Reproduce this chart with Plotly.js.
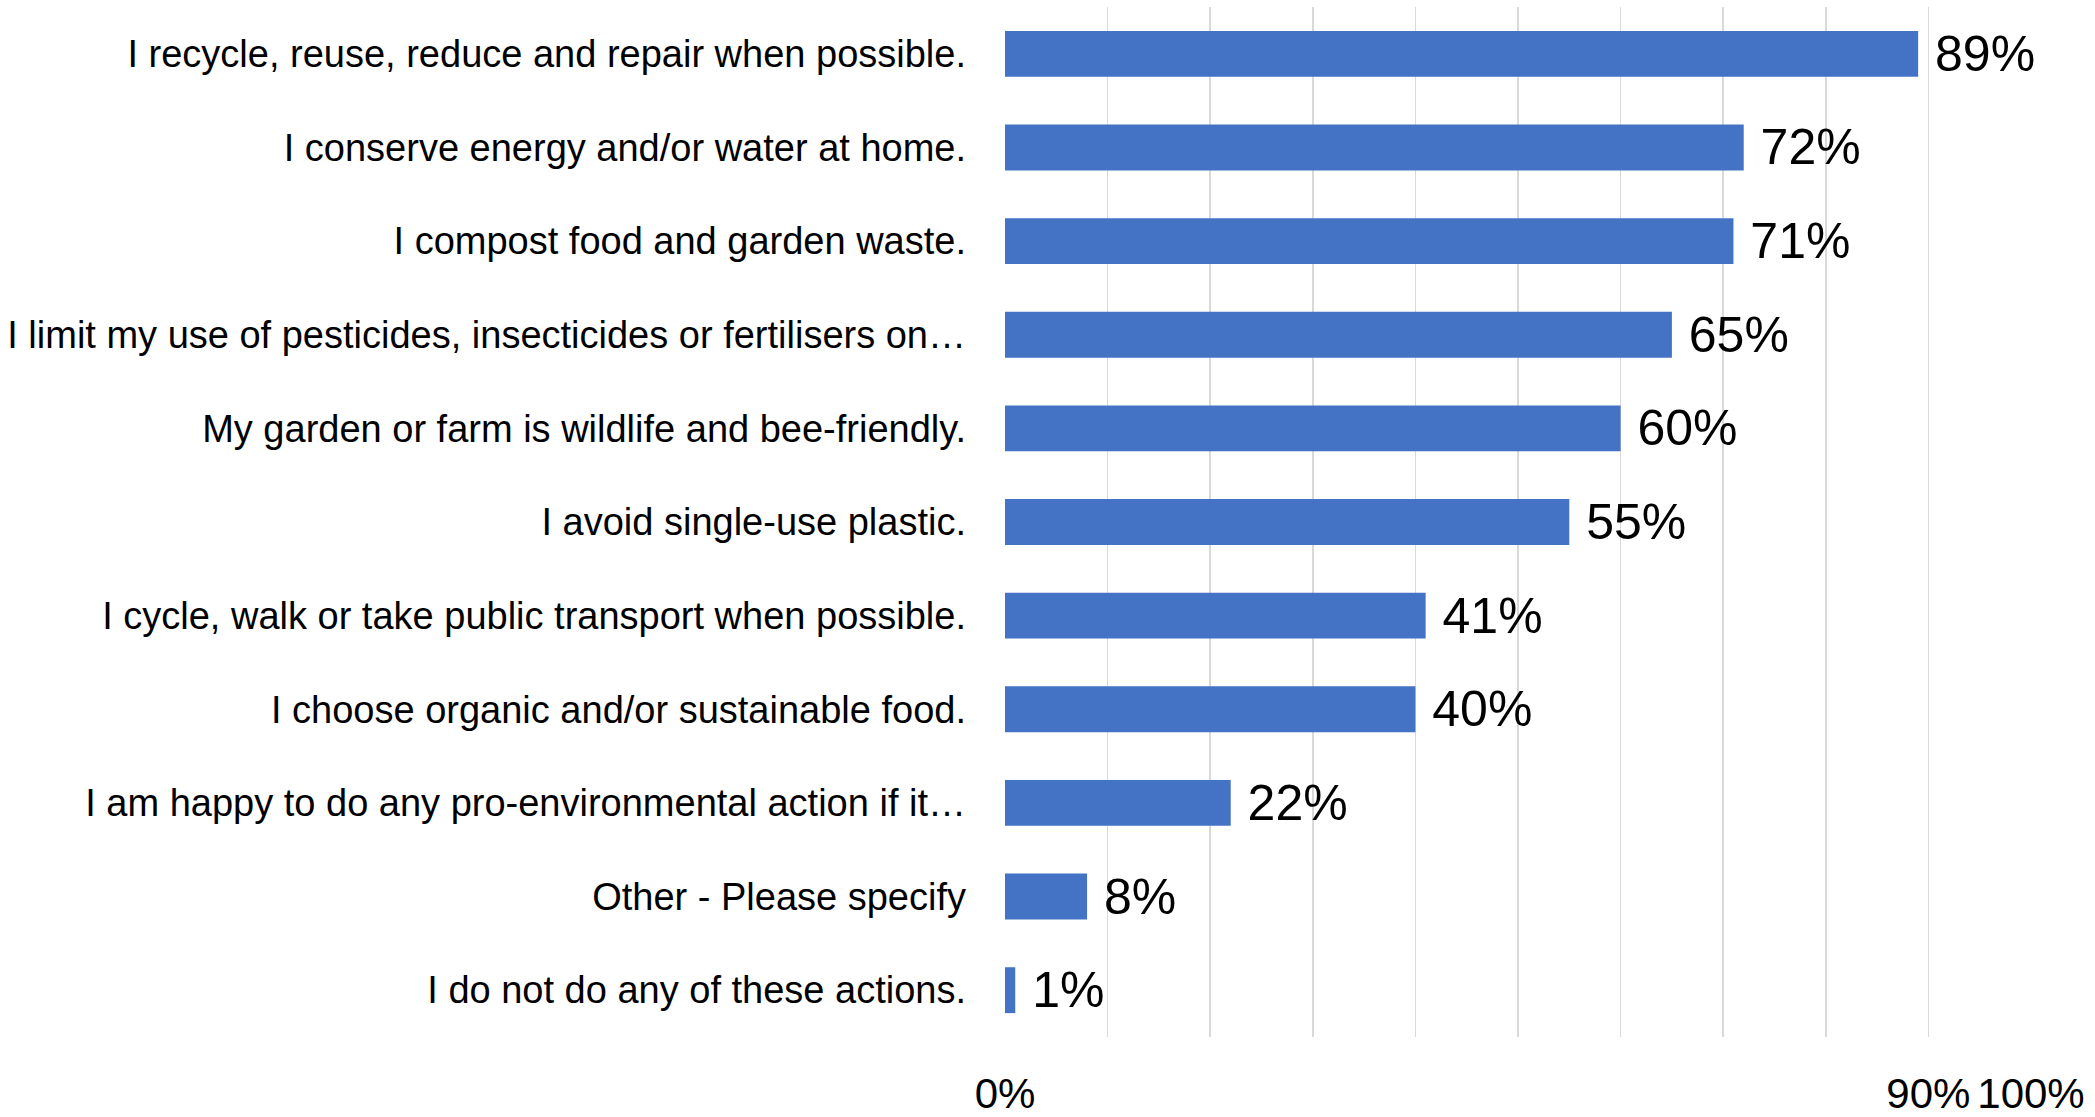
<!DOCTYPE html>
<html>
<head>
<meta charset="utf-8">
<script src="https://cdn.plot.ly/plotly-3.0.1.min.js"></script>
<style>
  html, body { margin: 0; padding: 0; background: #ffffff; }
  #chart { width: 2095px; height: 1117px; }
</style>
</head>
<body>
<div id="chart"></div>
<script>
const categories = [
  "I recycle, reuse, reduce and repair when possible.",
  "I conserve energy and/or water at home.",
  "I compost food and garden waste.",
  "I limit my use of pesticides, insecticides or fertilisers on…",
  "My garden or farm is wildlife and bee-friendly.",
  "I avoid single-use plastic.",
  "I cycle, walk or take public transport when possible.",
  "I choose organic and/or sustainable food.",
  "I am happy to do any pro-environmental action if it…",
  "Other - Please specify",
  "I do not do any of these actions."
];
const values = [0.89, 0.72, 0.71, 0.65, 0.60, 0.55, 0.41, 0.40, 0.22, 0.08, 0.01];
const tickValues = [0, 0.9, 1];
const tickLabels = ["0%", "90%", "100%"];

const FONT = "'Liberation Sans', Arial, sans-serif";

const trace = {
  type: "bar",
  orientation: "h",
  y: categories,
  x: values,
  marker: { color: "#4472C4" },
  texttemplate: " %{x:.0%}",
  textposition: "outside",
  constraintext: "none",
  textfont: { family: FONT, size: 50, color: "#000000" },
  cliponaxis: false,
  hoverinfo: "none"
};

const layout = {
  width: 2095,
  height: 1117,
  margin: { l: 1005, r: 64, t: 7, b: 80 },
  paper_bgcolor: "#ffffff",
  plot_bgcolor: "#ffffff",
  showlegend: false,
  bargap: 0.51,
  font: { family: FONT, color: "#000000" },
  xaxis: {
    range: [0, 1],
    tickvals: tickValues,
    ticktext: tickLabels,
    showgrid: true,
    gridcolor: "#d9d9d9",
    gridwidth: 1.5,
    minor: { dtick: 0.1, tick0: 0, showgrid: true, gridcolor: "#d9d9d9", gridwidth: 1.5 },
    zeroline: false,
    showline: false,
    ticks: "",
    ticklabelstandoff: 28,
    ticklabeloverflow: "allow",
    tickfont: { family: FONT, size: 42, color: "#000000" },
    fixedrange: true
  },
  yaxis: {
    autorange: "reversed",
    showgrid: false,
    zeroline: false,
    showline: false,
    ticks: "",
    ticklabelstandoff: 38,
    tickfont: { family: FONT, size: 38, color: "#000000" },
    fixedrange: true
  }
};

Plotly.newPlot("chart", [trace], layout, { displayModeBar: false, staticPlot: true });
</script>
</body>
</html>
